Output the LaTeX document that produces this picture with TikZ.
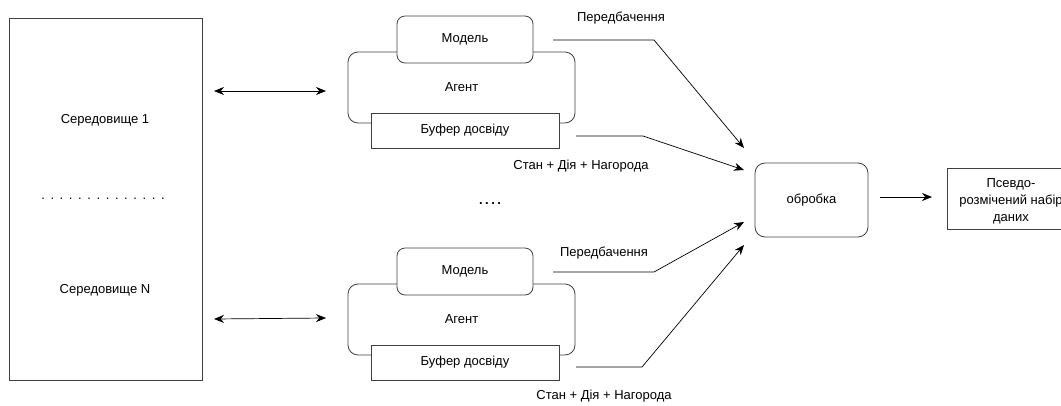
\documentclass[tikz,border=0pt]{standalone}
\usepackage{fontspec}
\setmainfont{Liberation Sans}
\usetikzlibrary{arrows.meta}
\tikzstyle{envbox}=[rectangle,draw=black!75,line width=0.8pt,
  minimum width=193pt,minimum height=362pt]
\tikzstyle{agbox}=[rectangle,rounded corners=10pt,draw=black!75,fill=white,
  line width=0.8pt,minimum width=227pt,minimum height=71pt]
\tikzstyle{mdbox}=[rectangle,rounded corners=8pt,draw=black!75,fill=white,
  line width=0.8pt,minimum width=136pt,minimum height=47pt]
\tikzstyle{bfbox}=[rectangle,draw=black!75,fill=white,
  line width=0.8pt,minimum width=188pt,minimum height=35pt]
\tikzstyle{prbox}=[rectangle,rounded corners=10pt,draw=black!75,
  line width=0.8pt,minimum width=113pt,minimum height=74pt]
\tikzstyle{dsbox}=[rectangle,draw=black!75,line width=0.8pt,
  minimum width=128pt,minimum height=61pt]
\tikzstyle{lbl}=[inner sep=0pt]
\tikzstyle{arr}=[-{Stealth[length=10pt,width=8pt]},line width=0.7pt]
\tikzstyle{darr}=[{Stealth[length=10pt,width=8pt]}-{Stealth[length=10pt,width=8pt]},line width=0.7pt]

\begin{document}
\begin{tikzpicture}[x=1pt,y=-1pt,font=\fontsize{13}{18}\selectfont]
    \useasboundingbox (0,0) rectangle (1061,405);
    \clip (0,0) rectangle (1061,405);
    % environments
    \node [style=envbox] (env) at (105.5, 199) {};
    \node [style=lbl] (e1) at (105, 120) {Середовище 1};
    \node [style=lbl] (eN) at (105, 290) {Середовище N};
    \node [style=lbl] (edots) at (103, 199)
      {.\hskip5.6pt.\hskip5.6pt.\hskip5.6pt.\hskip5.6pt.\hskip5.6pt.\hskip5.6pt.\hskip5.6pt.\hskip5.6pt.\hskip5.6pt.\hskip5.6pt.\hskip5.6pt.\hskip5.6pt.\hskip5.6pt.};
    % agent 1
    \node [style=agbox] (a1) at (461.5, 87.5) {Агент};
    \node [style=mdbox] (m1) at (465, 39.5) {Модель};
    \node [style=bfbox] (b1) at (465, 130.5) {Буфер досвіду};
    % agent N
    \node [style=agbox] (a2) at (461.5, 319.5) {Агент};
    \node [style=mdbox] (m2) at (465, 271.5) {Модель};
    \node [style=bfbox] (b2) at (465, 362.5) {Буфер досвіду};
    \node [style=lbl] (adots) at (490, 204) {\textbf{.\hskip2.5pt.\hskip2.5pt.\hskip2.5pt.}};
    % processing
    \node [style=prbox] (pr) at (811.5, 200) {обробка};
    \node [style=dsbox] (ds) at (1011, 198.5) {};
    \node [style=lbl,align=center] (dst) at (1011, 201)
      {Псевдо-\\[-1pt]розмічений набір\\[-1pt]даних};
    % labels
    \node [style=lbl] (p1) at (621, 18) {Передбачення};
    \node [style=lbl] (s1) at (581, 166) {Стан + Дія + Нагорода};
    \node [style=lbl] (p2) at (604, 253) {Передбачення};
    \node [style=lbl] (s2) at (604, 396) {Стан + Дія + Нагорода};
    % free ends
    \coordinate (d1l) at (214, 91);
    \coordinate (d1r) at (326, 91);
    \coordinate (d2l) at (214, 319);
    \coordinate (d2r) at (326, 318);
    \coordinate (m1o) at (553, 40);
    \coordinate (m1k) at (654, 40);
    \coordinate (b1o) at (576, 136);
    \coordinate (b1k) at (643, 136);
    \coordinate (m2o) at (553, 272);
    \coordinate (m2k) at (654, 272);
    \coordinate (b2o) at (576, 367);
    \coordinate (b2k) at (642, 367);
    \coordinate (i1) at (744, 148);
    \coordinate (i2) at (744, 170);
    \coordinate (i3) at (744, 222);
    \coordinate (i4) at (744, 245);
    \coordinate (po) at (880, 197);
    \coordinate (pi) at (932, 197);
    \draw [style=darr] (d1l) to (d1r);
    \draw [style=darr] (d2l) to (d2r);
    \draw [style=arr] (m1o) -- (m1k) -- (i1);
    \draw [style=arr] (b1o) -- (b1k) -- (i2);
    \draw [style=arr] (m2o) -- (m2k) -- (i3);
    \draw [style=arr] (b2o) -- (b2k) -- (i4);
    \draw [style=arr] (po) to (pi);
  \end{tikzpicture}
\end{document}
